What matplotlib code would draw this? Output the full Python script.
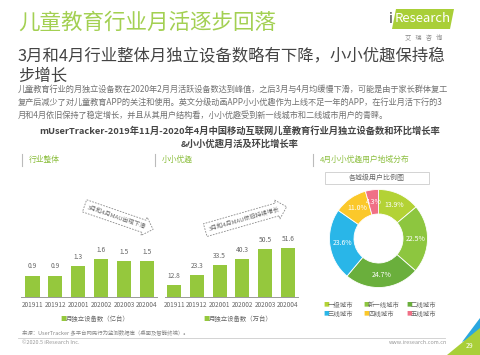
import matplotlib
matplotlib.use("Agg")
import matplotlib.pyplot as plt
from matplotlib.patches import Polygon, Rectangle

plt.rcParams['font.family'] = ['Noto Sans CJK SC', 'DejaVu Sans']

# ---------------- data ----------------
months = ["201911", "201912", "202001", "202002", "202003", "202004"]
industry_devices = [0.9, 0.9, 1.3, 1.6, 1.5, 1.5]          # 亿台
xiaoxiao_devices = [12.8, 23.3, 33.5, 40.3, 50.5, 51.6]    # 万台
city_levels = ["一级城市", "新一线城市", "二线城市", "三线城市", "四线城市", "五线城市"]
city_shares = [13.9, 22.5, 24.7, 23.6, 11.0, 4.3]

title = "儿童教育行业月活逐步回落"
subtitle1 = "3月和4月行业整体月独立设备数略有下降，小小优趣保持稳"
subtitle2 = "步增长"
body = [
    "儿童教育行业的月独立设备数在2020年2月月活跃设备数达到峰值，之后3月与4月均缓慢下滑，可能是由于家长群体复工",
    "复产后减少了对儿童教育APP的关注和使用。英文分级动画APP小小优趣作为上线不足一年的APP，在行业月活下行的3",
    "月和4月依旧保持了稳定增长，并且从其用户结构看，小小优趣受到新一线城市和二线城市用户的青睐。",
]
chart_title1 = "mUserTracker-2019年11月-2020年4月中国移动互联网儿童教育行业月独立设备数和环比增长率"
chart_title2 = "&小小优趣月活及环比增长率"
sections = ["行业整体", "小小优趣", "4月小小优趣用户地域分布"]
legend1 = "月独立设备数（亿台）"
legend2 = "月独立设备数（万台）"
note1 = "3月和4月MAU出现下滑"
note2 = "3月和4月MAU依旧持续增长"
pie_header = "各城级用户比例图"
source = "来源：UserTracker 多平台网民行为监测数据库（桌面及智能终端）。"

# ---------------- layout ----------------
W, H = 480, 355
fig = plt.figure(figsize=(W / 100, H / 100), dpi=100)
fig.patch.set_facecolor("white")

def fx(x):
    return x / W

def fy(y):
    return 1 - y / H

def txt(x, y, s, size, color="#555555", ha="left", va="center", **kw):
    return fig.text(fx(x), fy(y), s, fontsize=size, color=color, ha=ha, va=va, **kw)

BAR = "#95c83d"
GRAY = "#666666"

# header
txt(18, 23, title, 15.5, color="#a3d052", fontweight="light")
txt(18, 56, subtitle1, 11.8, color="#444444")
txt(18, 76, subtitle2, 11.8, color="#444444")
for i, line in enumerate(body):
    txt(18, 89 + i * 13, line, 5.9, color="#707070")

# logo
fig.patches.append(Polygon([(fx(396), fy(9)), (fx(454), fy(9)), (fx(450), fy(29)), (fx(392), fy(29))],
                           closed=True, transform=fig.transFigure, fc="#a9cf38", ec="none"))
txt(391, 19, "i", 10, color="#333333", ha="center")
txt(423, 19, "Research", 9.5, color="white", ha="center")
txt(424, 38, "艾   瑞   咨   询", 4.5, color="#888888", ha="center")

# chart title
txt(240, 131, chart_title1, 6.7, color="#444444", ha="center", fontweight="bold")
txt(240, 144, chart_title2, 6.7, color="#444444", ha="center", fontweight="bold")

# section labels
for xb, s in zip([22, 155, 313], sections):
    fig.add_artist(plt.Line2D([fx(xb), fx(xb)], [fy(154), fy(166)], color="#bbbbbb", lw=0.8))
    txt(xb + 7, 160, s, 5.6, color="#8cbf3f")

# ---------------- left bar chart ----------------
ax1 = fig.add_axes([fx(21), fy(297), fx(157) - fx(21), fy(240) - fy(297)])
x = range(len(months))
ax1.bar(x, industry_devices, width=0.62, color=BAR)
for xi, v in zip(x, industry_devices):
    ax1.text(xi, v + 0.22, f"{v:.1f}", ha="center", va="bottom", fontsize=4.8, color=GRAY)
ax1.set_ylim(0, 2.4)
ax1.set_xlim(-0.5, 5.44)

# ---------------- middle bar chart ----------------
ax2 = fig.add_axes([fx(165), fy(297), fx(298) - fx(165), fy(240) - fy(297)])
ax2.bar(x, xiaoxiao_devices, width=0.62, color=BAR)
for xi, v in zip(x, xiaoxiao_devices):
    ax2.text(xi, v + 5, f"{v:.1f}", ha="center", va="bottom", fontsize=4.8, color=GRAY)
ax2.set_ylim(0, 60)
ax2.set_xlim(-0.4, 5.44)

for ax in (ax1, ax2):
    ax.set_facecolor("none")
    for sp in ("top", "right", "left"):
        ax.spines[sp].set_visible(False)
    ax.spines["bottom"].set_color("#999999")
    ax.spines["bottom"].set_linewidth(0.7)
    ax.set_yticks([])
    ax.set_xticks(list(x))
    ax.set_xticklabels(months, fontsize=4.6, color=GRAY)
    ax.tick_params(axis="x", length=0, pad=3)

# legends under bar charts
txt(60, 319, "■", 4.5, color=BAR)
txt(66, 319, legend1, 4.6, color=GRAY)
txt(203, 319, "■", 4.5, color=BAR)
txt(209, 319, legend2, 4.6, color=GRAY)

# dashed arrow notes
arrow_box = dict(boxstyle="rarrow,pad=0.6", fc="white", ec="#888888", ls=(0, (2, 1.5)), lw=0.6)
txt(117, 217, note1, 4.3, color=GRAY, ha="center", rotation=-19, bbox=arrow_box, rotation_mode="anchor")
txt(244, 219, note2, 4.3, color=GRAY, ha="center", rotation=16, bbox=arrow_box, rotation_mode="anchor")

# ---------------- donut ----------------
colors = ["#b3d235", "#8dc63f", "#6aaf3c", "#29b6e8", "#fbc82a", "#f07086"]
cx, cy, r = 378.5, 238.5, 50
axp = fig.add_axes([fx(cx - r), fy(cy + r), fx(2 * r), fy(0) - fy(2 * r)])
wedges, _, autotexts = axp.pie(city_shares, colors=colors, startangle=90, counterclock=False,
                               radius=1, autopct=lambda p: f"{p:.1f}%", pctdistance=0.75,
                               wedgeprops=dict(width=0.5, edgecolor="white", linewidth=0.6))
for t in autotexts:
    t.set_color("white")
    t.set_fontsize(5)
axp.set_xlim(-1.02, 1.02)
axp.set_ylim(-1.02, 1.02)
axp.set_aspect("equal")
axp.axis("off")

# pie header box
fig.patches.append(Rectangle((fx(325), fy(184)), fx(104), fy(172) - fy(184), transform=fig.transFigure,
                             fc="white", ec="#cccccc", lw=0.6))
txt(377, 178, pie_header, 5, color=GRAY, ha="center")

# pie legend
lx = [323, 363, 406]
ly = [305, 314]
for i, (name, c) in enumerate(zip(city_levels, colors)):
    xx = lx[i % 3]
    yy = ly[i // 3]
    txt(xx, yy, "■", 4.2, color=c)
    txt(xx + 5, yy, name, 4.6, color=GRAY)

# ---------------- footer ----------------
txt(22, 333, source, 3.9, color="#888888")
fig.add_artist(plt.Line2D([fx(18), fx(445)], [fy(338), fy(338)], color="#cccccc", lw=0.6))
txt(22, 343, "©2020.5 iResearch Inc.", 3.9, color="#999999")
txt(447, 343, "www.iresearch.com.cn", 3.9, color="#999999", ha="right")
fig.patches.append(Polygon([(fx(480), fy(318)), (fx(462), fy(342)), (fx(480), fy(334))], closed=True,
                           transform=fig.transFigure, fc="#2aa7df", ec="none"))
fig.patches.append(Polygon([(fx(480), fy(328)), (fx(447), fy(355)), (fx(480), fy(355))], closed=True,
                           transform=fig.transFigure, fc="#a9cf38", ec="none"))
txt(470, 346, "29", 5, color="white", ha="center")

fig.savefig("out.png", dpi=100, facecolor="white")
